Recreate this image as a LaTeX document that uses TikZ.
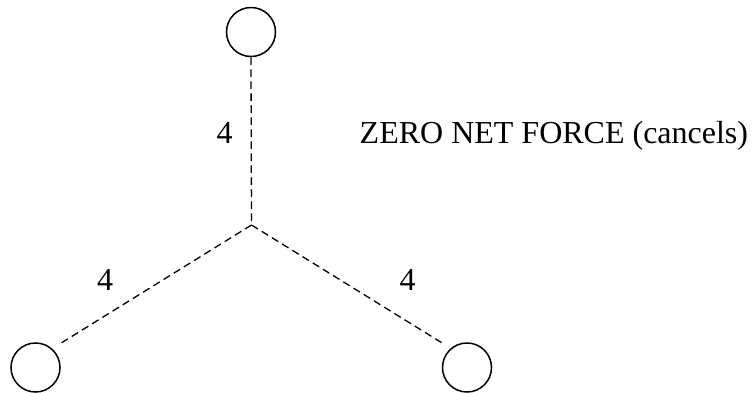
\documentclass[tikz,border=0pt]{standalone}
\usepackage{fontspec}
\setmainfont{Liberation Serif}
\begin{document}
\begin{tikzpicture}[x=1pt,y=-1pt,
  ball/.style={circle,draw,line width=1.5pt,minimum size=49pt,inner sep=0pt},
  bond/.style={line width=1.3pt,dash pattern=on 7.5pt off 4.5pt},
  lbl/.style={font=\fontsize{32}{36}\selectfont,inner sep=0pt,anchor=base}]
\useasboundingbox (0,0) rectangle (753,392);
\node[ball] (top) at (251,32) {};
\node[ball] (bl) at (35.5,367.5) {};
\node[ball] (br) at (467,367.5) {};
\coordinate (j) at (251.5,225);
\coordinate (blend) at (61.7,342.7);
\coordinate (brend) at (441.7,342.7);
\draw[bond] (top.south) -- (j);
\draw[bond] (j) -- (blend);
\draw[bond] (j) -- (brend);
\node[lbl] (l1) at (224.5,143.3) {4};
\node[lbl] (l2) at (105,290.5) {4};
\node[lbl] (l3) at (407.5,290.5) {4};
\node[lbl,anchor=base west] (t) at (359.5,143) {ZERO NET FORCE (cancels)};
\end{tikzpicture}
\end{document}
